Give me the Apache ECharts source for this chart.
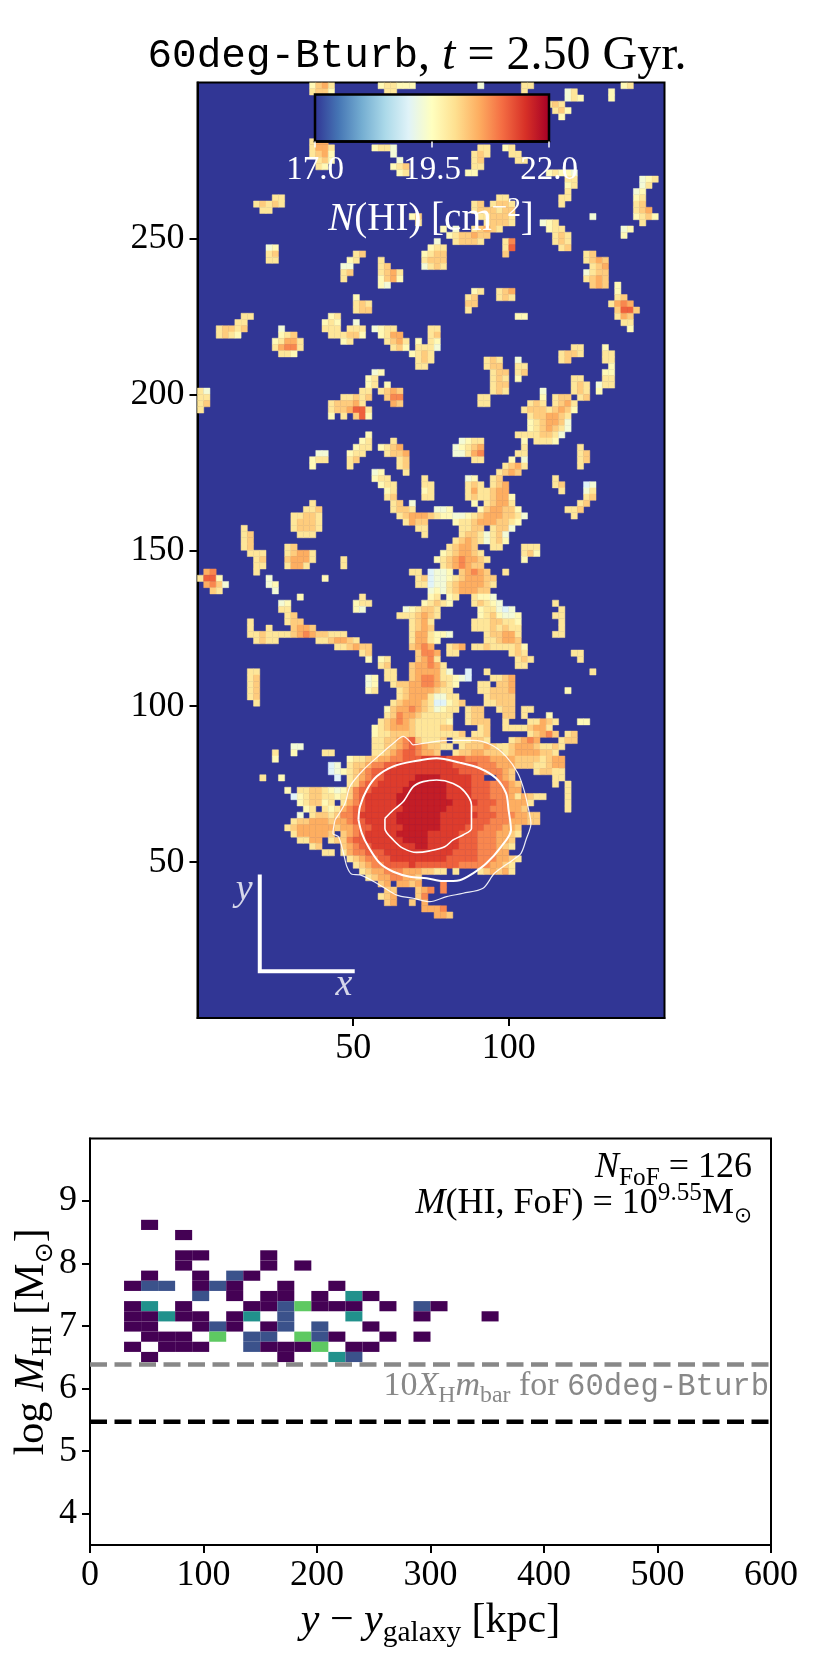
<!DOCTYPE html>
<html>
<head>
<meta charset="utf-8">
<script src="https://cdn.jsdelivr.net/npm/echarts@6/dist/echarts.min.js"></script>
<style>html,body{margin:0;padding:0;background:#fff}#main{width:830px;height:1661px}</style>
</head>
<body>
<div id="main"></div>
<script>
// N(HI) map on a 2 unit grid: [row, first col, levels]
// row*2 = y, col*2 = x, each digit indexes hiLevels
var cellSize = 2;
var hiLevels = [19.0, 19.3, 19.6, 19.9, 20.2, 20.5, 20.8, 21.1, 21.4, 21.7];
var hiRows = [
[149,18,'2453'],[149,29,'2332'],[149,33,'22'],[149,45,'1'],[149,52,'33'],[149,68,'23'],
[148,18,'3442'],[148,30,'33'],[148,52,'3'],[148,66,'2'],[148,59,'13'],
[147,59,'132'],[147,66,'2'],[146,56,'343'],[145,57,'342'],[144,58,'2'],
[140,18,'355'],[139,18,'3553'],[139,28,'2331'],[139,45,'33'],[139,49,'23'],
[138,18,'3452'],[138,31,'1'],[138,44,'343'],[138,50,'33'],
[137,19,'342'],[137,32,'1'],[137,44,'34'],[137,51,'33'],
[136,19,'32'],[136,31,'234'],[136,44,'33'],[135,32,'23'],[135,43,'22'],[135,56,'23221'],
[134,59,'33'],[134,71,'123'],[133,59,'23'],[133,71,'13'],[132,59,'3'],[132,70,'12'],
[131,12,'33'],[131,48,'33'],[131,58,'33'],[131,70,'23'],
[130,9,'34343'],[130,44,'34'],[130,47,'3443'],[130,58,'3'],[130,70,'34'],
[129,10,'33'],[129,44,'3444'],[129,48,'344'],[129,70,'345'],
[128,34,'24'],[128,45,'334443'],[128,70,'2342'],[128,63,'1'],
[127,35,'3'],[127,46,'34443'],[127,55,'123'],[127,71,'3'],
[126,39,'2'],[126,41,'1'],[126,44,'34543'],[126,56,'233'],[126,68,'12'],
[125,40,'2344544'],[125,57,'343'],[125,68,'2'],
[124,38,'1'],[124,41,'34443'],[124,49,'36'],[124,57,'343'],
[123,11,'12'],[123,37,'233'],[123,49,'37'],[123,58,'34'],
[122,11,'34'],[122,25,'34'],[122,36,'2344'],[122,49,'4'],[122,62,'34'],
[121,11,'33'],[121,24,'23'],[121,29,'3'],[121,36,'3444'],[121,62,'3454'],
[120,23,'11'],[120,29,'34'],[120,36,'1343'],[120,63,'345'],
[119,23,'34'],[119,29,'3453'],[119,62,'1'],[119,63,'344'],
[118,23,'3'],[118,29,'2452'],[118,62,'3454'],
[117,29,'21'],[117,63,'454'],[117,67,'2'],
[116,44,'23'],[116,48,'345'],[116,67,'2'],
[115,25,'2'],[115,43,'34'],[115,48,'343'],[115,67,'34'],
[114,25,'343'],[114,43,'44'],[114,66,'3565'],
[113,25,'344'],[113,43,'3'],[113,67,'4774'],
[112,7,'33'],[112,21,'23'],[112,51,'22'],[112,67,'354'],
[111,6,'33'],[111,20,'232'],[111,25,'1'],[111,68,'33'],
[110,3,'34434'],[110,13,'1'],[110,20,'333'],[110,24,'333'],[110,28,'1233'],[110,37,'33'],[110,69,'2'],
[109,3,'3432'],[109,13,'234'],[109,21,'33'],[109,23,'3442'],[109,29,'2355'],[109,37,'34'],
[108,12,'23553'],[108,23,'23'],[108,30,'3453'],[108,35,'2'],[108,37,'32'],
[107,12,'35663'],[107,31,'342'],[107,35,'3331'],[107,60,'33'],[107,65,'2'],
[106,13,'332'],[106,34,'2343'],[106,58,'3443'],[106,65,'33'],
[105,35,'343'],[105,46,'343'],[105,51,'1'],[105,58,'34'],[105,65,'33'],
[104,35,'33'],[104,46,'344'],[104,51,'33'],[104,66,'2'],
[103,28,'12'],[103,47,'344'],[103,51,'34'],[103,65,'22'],
[102,27,'23'],[102,47,'343'],[102,51,'2'],[102,60,'33'],[102,65,'33'],
[101,27,'23'],[101,30,'2'],[101,47,'344'],[101,60,'343'],[101,64,'133'],
[100,0,'31'],[100,26,'33'],[100,29,'3454'],[100,47,'343'],[100,55,'1'],[100,60,'343'],[100,64,'2'],
[99,0,'33'],[99,23,'334'],[99,26,'34'],[99,30,'466'],[99,45,'33'],[99,55,'2'],[99,57,'344'],[99,61,'34'],
[98,0,'34'],[98,21,'344453'],[98,31,'54'],[98,45,'33'],[98,53,'343'],[98,57,'3453'],
[97,0,'3'],[97,21,'3445773'],[97,52,'344434542'],
[96,21,'2'],[96,23,'3'],[96,25,'472'],[96,53,'3445543'],
[95,53,'2345541'],[94,53,'2345431'],[93,27,'2'],[93,51,'33'],[93,53,'334431'],
[92,26,'23'],[92,31,'3'],[92,42,'1233'],[92,52,'2'],[92,54,'3332'],
[91,25,'233'],[91,29,'2345'],[91,41,'12345'],[91,52,'3'],[91,61,'3'],
[90,19,'11'],[90,24,'233'],[90,30,'3445'],[90,41,'11356'],[90,51,'33'],[90,61,'34'],
[89,18,'233'],[89,24,'34'],[89,32,'34'],[89,44,'33'],[89,50,'2'],[89,52,'1'],[89,61,'34'],
[88,18,'2'],[88,24,'3'],[88,32,'34'],[88,49,'3453'],[88,61,'3'],
[87,28,'12'],[87,33,'3'],[87,48,'3454'],
[86,28,'233'],[86,36,'3'],[86,43,'12'],[86,47,'34'],[86,57,'3'],
[85,29,'233'],[85,36,'33'],[85,43,'343'],[85,47,'345'],[85,57,'34'],[85,62,'01'],
[84,30,'23'],[84,36,'23'],[84,43,'353'],[84,46,'3455'],[84,58,'3'],[84,62,'13'],
[83,30,'34'],[83,36,'33'],[83,43,'343'],[83,46,'34552'],[83,62,'34'],
[82,18,'3'],[82,31,'34'],[82,34,'1'],[82,44,'2'],[82,46,'34553'],[82,61,'34'],
[81,17,'334'],[81,31,'3443'],[81,38,'112'],[81,45,'2455442'],[81,59,'334'],
[80,15,'33443'],[80,32,'345554322112345554431'],[80,60,'3'],
[79,15,'34443'],[79,33,'3544'],[79,41,'23345554432'],
[78,7,'3'],[78,15,'34443'],[78,35,'33'],[78,42,'3344'],[78,47,'3441'],
[77,7,'34'],[77,16,'333'],[77,36,'3'],[77,42,'3443'],[77,46,'1341'],
[76,7,'34'],[76,41,'34543'],[76,46,'1342'],
[75,7,'34'],[75,14,'34'],[75,40,'34554'],[75,47,'33'],[75,52,'333'],
[74,8,'3'],[74,9,'33'],[74,14,'34553'],[74,39,'2345543'],[74,52,'342'],
[73,9,'34'],[73,14,'45553'],[73,23,'3'],[73,38,'234565543'],[73,52,'2'],
[72,9,'33'],[72,14,'3553'],[72,23,'3'],[72,39,'3456544'],
[71,1,'56'],[71,9,'3'],[71,34,'33'],[71,37,'011'],[71,40,'2'],[71,42,'45654'],[71,49,'3'],
[70,0,'3772'],[70,11,'1'],[70,20,'2'],[70,35,'34'],[70,37,'0112'],[70,41,'3455544'],
[69,1,'5641'],[69,11,'12'],[69,35,'33'],[69,37,'011'],[69,40,'34555543'],
[68,2,'43'],[68,12,'1'],[68,37,'12'],[68,39,'1'],[68,40,'3455544'],
[67,16,'2'],[67,26,'3'],[67,37,'23'],[67,40,'23'],[67,44,'3221'],
[66,13,'12'],[66,25,'233'],[66,36,'23432'],[66,44,'34321'],[66,57,'3'],
[65,13,'33'],[65,25,'21'],[65,33,'12'],[65,35,'3443'],[65,45,'2331'],[65,49,'01'],[65,58,'3'],
[64,14,'34'],[64,32,'3334543'],[64,45,'2342112'],[64,57,'33'],
[63,8,'3'],[63,14,'344'],[63,34,'3453'],[63,44,'33344332'],[63,58,'3'],
[62,8,'3'],[62,11,'3'],[62,15,'4554'],[62,34,'3454'],[62,44,'33343433'],[62,58,'3'],
[61,8,'33433334565443'],[61,22,'33'],[61,34,'3553'],[61,38,'221'],[61,46,'344553'],[61,57,'33'],
[60,9,'3433'],[60,19,'3345543'],[60,34,'3553'],[60,37,'32'],[60,46,'334554'],
[59,22,'334544'],[59,34,'4565'],[59,40,'345'],[59,44,'334333342'],
[58,26,'34'],[58,35,'4665'],[58,40,'33'],[58,50,'343'],[58,60,'33'],
[57,27,'2'],[57,29,'23'],[57,35,'4563'],[57,51,'343'],[57,61,'3'],
[56,29,'34'],[56,34,'455653'],[56,51,'33'],
[55,8,'33'],[55,30,'33'],[55,34,'4555531'],[55,43,'0'],[55,46,'3'],[55,63,'3'],
[54,8,'34'],[54,27,'12'],[54,30,'33'],[54,34,'4566533210'],[54,47,'33'],[54,49,'45'],
[53,8,'34'],[53,27,'12'],[53,31,'34'],[53,33,'455665432'],[53,45,'33'],[53,48,'445'],
[52,8,'34'],[52,27,'23'],[52,32,'345555433'],[52,45,'3'],[52,46,'34445'],[52,59,'2'],
[51,8,'34'],[51,32,'3455531133'],[51,46,'34444'],
[50,9,'3'],[50,31,'345554300234'],[50,46,'33444'],
[49,30,'245565431233'],[49,43,'344'],[49,48,'344'],[49,52,'33'],
[48,30,'34655433333'],[48,43,'344'],[48,49,'44'],[48,52,'3'],[48,56,'2'],
[47,29,'345654333332'],[47,43,'3444'],[47,49,'3'],[47,53,'3'],[47,54,'3543'],[47,61,'22'],
[46,28,'2345554333344'],[46,45,'34'],[46,49,'33'],[46,51,'334553'],
[45,28,'233444433333'],[45,40,'33'],[45,42,'4'],[45,44,'334'],[45,53,'34564'],[45,59,'34'],
[44,28,'334456743334'],[44,41,'33'],[44,42,'33443'],[44,50,'34565'],[44,58,'344'],
[43,15,'11'],[43,28,'3344567654433'],[43,42,'34445433'],[43,49,'3455543343'],
[42,12,'3'],[42,15,'2'],[42,20,'33'],[42,28,'33456776554'],[42,41,'3445544433'],[42,50,'45555443'],
[41,12,'2'],[41,24,'23344556677788887776666555544443455'],
[40,21,'01'],[40,24,'34456677888888888777766655544433455'],
[39,21,'01'],[39,23,'2345677888888888888777766654'],[39,54,'3443'],[39,57,'33'],
[38,10,'3'],[38,13,'2'],[38,22,'0'],[38,24,'3456778888899998888877'],[38,48,'654'],[38,57,'33'],
[37,24,'3467788888999999888877766654'],[37,57,'3'],[37,59,'3'],
[36,14,'2'],[36,16,'3'],[36,17,'34432'],[36,22,'12'],[36,24,'4677888889999999888877766655'],[36,59,'3'],
[35,15,'0'],[35,16,'234433'],[35,22,'23'],[35,24,'467888889999999988887776665'],[35,51,'35433'],[35,59,'3'],
[34,16,'2344'],[34,20,'23'],[34,23,'35678888899999999988887776655'],[34,52,'53'],[34,59,'3'],
[33,17,'23'],[33,20,'3'],[33,21,'23567788888899999998888777666554'],[33,59,'3'],
[32,16,'1'],[32,18,'3443'],[32,22,'466788888899999998888887776665544'],
[31,15,'34'],[31,17,'45554556778888899999998888877766655544'],
[30,14,'3455555545'],[30,24,'5677888889999998888777666554'],
[29,15,'3555554'],[29,23,'45678888899999888887776665543'],
[28,16,'3355'],[28,21,'34'],[28,23,'4677888888999988888777666554'],
[27,18,'34'],[27,23,'4567788888889988888777666543'],
[26,20,'33'],[26,23,'356677788888888888777766655'],
[25,24,'3456677888888888777776665543'],
[24,25,'34566777787777777666665543'],
[23,26,'3455666555443'],[23,39,'3'],[23,41,'3'],[23,45,'34545'],[23,50,'3'],
[22,27,'345566554'],
[21,29,'45'],[21,32,'5545'],[21,39,'6'],
[20,30,'44'],[20,35,'456'],[20,39,'6'],
[19,29,'345'],[19,35,'46'],
[18,30,'45'],[18,34,'4'],[18,36,'5'],
[17,36,'5556'],[16,38,'554']
];

// white contours, in map units
var contourOuter = [[44.2,63.6],[47.4,68.9],[49,74.3],[53.3,79.6],[58.6,84.4],[62.9,88.1],[66.1,90.3],[68.2,88.7],[69.3,87.6],[74.6,88.4],[81,89],[88.5,89],[94.3,87.6],[99.1,83.9],[102.9,78.5],[105,72.7],[106.6,65.7],[107.1,62.4],[105.5,57.1],[103.9,52.8],[101.3,50.7],[95.4,46.4],[91.7,41.6],[85.3,40],[80,38.9],[74.6,37.3],[69.3,38.4],[64,39.4],[58.6,42.6],[52.2,45.9],[49.6,46.1],[48,48.5],[46.9,52.8],[45.3,58.1],[43.5,59.2],[44.2,63.6]];
var contourMiddle = [[51.7,63.6],[52.2,67.9],[54.4,73.2],[57.6,77.5],[62.9,80.7],[69.3,82.3],[76.8,83.3],[84.2,81.9],[90.6,80.1],[95.9,76.9],[99.1,72.1],[99.9,66.8],[100.7,60.3],[97.5,54.9],[92.8,49.6],[88.5,46.4],[84.2,44.2],[78.9,43.9],[73.6,44.8],[68.2,45.3],[62.9,46.9],[58.6,49.6],[54.9,54.9],[52.8,59.2],[51.7,63.6]];
var contourInner = [[60.2,64],[62.9,66.7],[66.1,69.4],[69.3,74.2],[72.5,75.8],[76.8,76.3],[82.1,75.2],[85.8,72.6],[88,68.3],[88,60.8],[85.3,58.7],[82.1,57.1],[79.4,54.9],[74.6,53.6],[70.4,53.1],[66.1,54.4],[62.9,57.1],[60.2,60.8],[60.2,64]];

var scaleBar = [[20,46],[20,15],[50.5,15]];
var scaleLabels = [[15,41,'y'],[47,10.5,'x']];

var mapTicksX = [50, 100];
var mapTicksY = [50, 100, 150, 200, 250];
var cmapColors = ['#313695','#4575b4','#74add1','#abd9e9','#e0f3f8','#ffffbf','#fee090','#fdae61','#f46d43','#d73027','#a50026'];
var barRange = [17, 22];
var barTicks = [17, 19.5, 22];

// FoF histogram: [x bin, y bin, count]
var fofBinX = 15, fofBinY = 0.1625, fofY0 = 3.5;
var fofCells = [
[3,31,1],[5,30,1],
[5,28,1],[6,28,1],[10,28,1],
[5,27,1],[10,27,1],[12,27,1],
[3,26,1],[6,26,1],[8,26,2],[9,26,1],
[2,25,1],[3,25,2],[4,25,2],[6,25,1],[7,25,2],[8,25,1],[11,25,1],[14,25,1],
[6,24,2],[8,24,1],[10,24,1],[11,24,1],[13,24,1],[15,24,3],[16,24,1],
[2,23,1],[3,23,3],[5,23,1],[9,23,1],[10,23,1],[11,23,2],[12,23,4],[13,23,1],[14,23,1],[15,23,1],[17,23,1],[19,23,2],[20,23,1],
[2,22,1],[3,22,1],[4,22,3],[5,22,1],[6,22,1],[8,22,1],[9,22,3],[11,22,2],[15,22,3],[19,22,1],[23,22,1],
[2,21,1],[3,21,1],[6,21,1],[7,21,2],[8,21,1],[10,21,1],[11,21,2],[13,21,2],[16,21,1],
[3,20,1],[4,20,1],[5,20,1],[7,20,4],[9,20,2],[10,20,2],[12,20,4],[13,20,2],[14,20,1],[17,20,1],[19,20,1],
[2,19,1],[4,19,1],[5,19,1],[6,19,1],[9,19,2],[10,19,1],[11,19,1],[12,19,1],[13,19,4],[15,19,1],[16,19,1],
[3,18,1],[11,18,1],[14,18,3],[15,18,2]
];
var countColors = ['#440154','#3b528b','#21918c','#5ec962'];

var refGray = 6.385, refBlack = 5.47;
var refXs = [0, 600];
var fofTicksX = [0, 100, 200, 300, 400, 500, 600];
var fofTicksY = [4, 5, 6, 7, 8, 9];

var serif = '"Liberation Serif","DejaVu Serif",serif';
var mono = '"Liberation Mono","DejaVu Sans Mono",monospace';
var myChart = echarts.init(document.getElementById('main'), null, {renderer: 'canvas'});

var mapData = [];
hiRows.forEach(function (row) {
    for (var i = 0; i < row[2].length; i++) {
        mapData.push([(row[1] + i) * cellSize, row[0] * cellSize, hiLevels[+row[2][i]]]);
    }
});
var fofData = fofCells.map(function (c) {
    return [c[0] * fofBinX, fofY0 + c[1] * fofBinY, c[2]];
});
var barStops = cmapColors.map(function (c, i) {
    return {offset: i / (cmapColors.length - 1), color: c};
});

function mapCell(params, api) {
    var p = api.coord([api.value(0), api.value(1) + cellSize]);
    var s = api.size([cellSize, cellSize]);
    var fill = api.visual('color');
    return {type: 'rect', shape: {x: p[0], y: p[1], width: s[0], height: s[1]},
        style: {fill: fill, stroke: fill, lineWidth: 0.5}};
}
function fofCell(params, api) {
    var p = api.coord([api.value(0), api.value(1) + fofBinY]);
    var s = api.size([fofBinX, fofBinY]);
    return {type: 'rect', shape: {x: p[0], y: p[1], width: s[0], height: s[1]},
        style: {fill: countColors[api.value(2) - 1]}};
}
function barRect(params, api) {
    var p = api.coord([barRange[0], 1]);
    var q = api.coord([barRange[1], 0]);
    return {type: 'rect', shape: {x: p[0], y: p[1], width: q[0] - p[0], height: q[1] - p[1]},
        style: {fill: new echarts.graphic.LinearGradient(0, 0, 1, 0, barStops)}};
}

// rich text styles for math labels at a given size
function mathRich(size) {
    var lh = Math.round(size * 1.27);
    return {
        i: {fontFamily: serif, fontStyle: 'italic', fontSize: size, lineHeight: lh},
        s: {fontFamily: serif, fontSize: size * 0.7, lineHeight: lh, verticalAlign: 'bottom'},
        u: {fontFamily: serif, fontSize: size * 0.7, lineHeight: lh, verticalAlign: 'top'},
        t: {fontFamily: mono, fontSize: size * 0.9, lineHeight: lh},
        o: {fontFamily: '"DejaVu Sans"', fontSize: size * 0.6, lineHeight: lh, verticalAlign: 'bottom'}
    };
}
function axisStyle(ticks, extra) {
    return Object.assign({
        type: 'value',
        axisLine: {show: true, onZero: false, lineStyle: {color: '#000', width: 2}},
        axisTick: {show: true, customValues: ticks, length: 8, lineStyle: {color: '#000', width: 2}},
        axisLabel: {customValues: ticks, color: '#000', fontFamily: serif, fontSize: 36, margin: 13},
        splitLine: {show: false}
    }, extra);
}
function textStyleOf(size, color) {
    return {fontFamily: serif, fontWeight: 'normal', fontSize: size, color: color,
        lineHeight: Math.round(size * 1.27), rich: mathRich(size)};
}

var option = {
    animation: false,
    backgroundColor: '#fff',
    title: [
        {left: 412, top: 26, textAlign: 'center',
            text: '{m|60deg-Bturb},{n| t} = 2.50 Gyr.',
            textStyle: {fontFamily: serif, fontWeight: 'normal', fontSize: 48, color: '#000', lineHeight: 50,
                rich: {m: {fontFamily: mono, fontSize: 41, lineHeight: 50}, n: {fontFamily: serif, fontStyle: 'italic', fontSize: 48, lineHeight: 50}}}},
        {left: 426, top: 190, textAlign: 'center', z: 20,
            text: '{i|N}(HI) [cm{u|\u22122}]',
            textStyle: textStyleOf(39, '#fff')},
        {left: 747, top: 1140, textAlign: 'right',
            text: '{i|N}{s|FoF} = 126',
            textStyle: textStyleOf(36, '#000')},
        {left: 747, top: 1176, textAlign: 'right',
            text: '{i|M}(HI, FoF) = 10{u|9.55}M{o|\u2299}',
            textStyle: textStyleOf(36, '#000')},
        {left: 764, top: 1360, textAlign: 'right',
            text: '10{i|X}{s|H}{i|m}{s|bar} for {t|60deg-Bturb}',
            textStyle: textStyleOf(34, '#888')}
    ],
    grid: [
        {left: 197.5, top: 82.5, width: 467, height: 935.5, show: true, backgroundColor: '#313695', borderColor: '#000', borderWidth: 2, outerBoundsMode: 'none'},
        {left: 90, top: 1138.5, width: 681, height: 406.5, show: true, backgroundColor: '#fff', borderColor: '#000', borderWidth: 2, outerBoundsMode: 'none'},
        {left: 315, top: 94.5, width: 234, height: 47, show: true, backgroundColor: 'transparent', borderColor: '#000', borderWidth: 2.5, z: 10, outerBoundsMode: 'none'}
    ],
    xAxis: [
        axisStyle(mapTicksX, {gridIndex: 0, min: 0, max: 150}),
        axisStyle(fofTicksX, {gridIndex: 1, min: 0, max: 600, name: '{i|y} \u2212 {i|y}{s|galaxy} [kpc]', nameLocation: 'middle', nameGap: 48,
            nameTextStyle: textStyleOf(42, '#000')}),
        {type: 'value', gridIndex: 2, min: barRange[0], max: barRange[1], z: 12,
            axisLine: {show: true, onZero: false, lineStyle: {color: '#000', width: 2.5}},
            axisTick: {show: true, customValues: barTicks, length: 6, lineStyle: {color: '#fff', width: 1.5}},
            axisLabel: {customValues: barTicks, color: '#fff', fontFamily: serif, fontSize: 33, margin: 12,
                formatter: function (v) { return v.toFixed(1); }},
            splitLine: {show: false}}
    ],
    yAxis: [
        axisStyle(mapTicksY, {gridIndex: 0, min: 0, max: 300}),
        axisStyle(fofTicksY, {gridIndex: 1, min: 3.5, max: 10, name: 'log {i|M}{s|HI} [M{o|\u2299}]', nameLocation: 'middle', nameGap: 32, nameMoveOverlap: false,
            nameTextStyle: textStyleOf(42, '#000')}),
        {type: 'value', gridIndex: 2, min: 0, max: 1, show: false}
    ],
    visualMap: {show: false, seriesIndex: 0, dimension: 2, min: barRange[0], max: barRange[1], inRange: {color: cmapColors}},
    series: [
        {type: 'custom', xAxisIndex: 0, yAxisIndex: 0, data: mapData, renderItem: mapCell, clip: true, progressive: 0,
            encode: {x: 0, y: 1}, silent: true},
        {type: 'line', xAxisIndex: 0, yAxisIndex: 0, data: contourOuter, showSymbol: false, smooth: 0.3, z: 5, silent: true,
            lineStyle: {color: '#fff', width: 1.2, opacity: 0.9}},
        {type: 'line', xAxisIndex: 0, yAxisIndex: 0, data: contourMiddle, showSymbol: false, smooth: 0.3, z: 5, silent: true,
            lineStyle: {color: '#fff', width: 2}},
        {type: 'line', xAxisIndex: 0, yAxisIndex: 0, data: contourInner, showSymbol: false, smooth: 0.3, z: 5, silent: true,
            lineStyle: {color: '#fff', width: 1.6}},
        {type: 'line', xAxisIndex: 0, yAxisIndex: 0, data: scaleBar, showSymbol: false, z: 5, silent: true,
            lineStyle: {color: '#fff', width: 4, join: 'miter'}},
        {type: 'scatter', xAxisIndex: 0, yAxisIndex: 0, data: scaleLabels, symbolSize: 0, z: 6, silent: true,
            label: {show: true, position: 'inside', color: '#fff', fontFamily: serif, fontStyle: 'italic', fontSize: 38,
                formatter: function (p) { return p.value[2]; }}},
        {type: 'custom', xAxisIndex: 2, yAxisIndex: 2, data: [[0]], renderItem: barRect, z: 9, silent: true},
        {type: 'custom', xAxisIndex: 1, yAxisIndex: 1, data: fofData, renderItem: fofCell, encode: {x: 0, y: 1}, silent: true},
        {type: 'line', xAxisIndex: 1, yAxisIndex: 1, data: refXs.map(function (x) { return [x, refGray]; }), showSymbol: false, z: 5, silent: true,
            lineStyle: {color: '#888', width: 4.5, type: [17, 7.5]}},
        {type: 'line', xAxisIndex: 1, yAxisIndex: 1, data: refXs.map(function (x) { return [x, refBlack]; }), showSymbol: false, z: 5, silent: true,
            lineStyle: {color: '#000', width: 4.5, type: [17, 7.5]}}
    ]
};

myChart.setOption(option);
</script>
</body>
</html>
